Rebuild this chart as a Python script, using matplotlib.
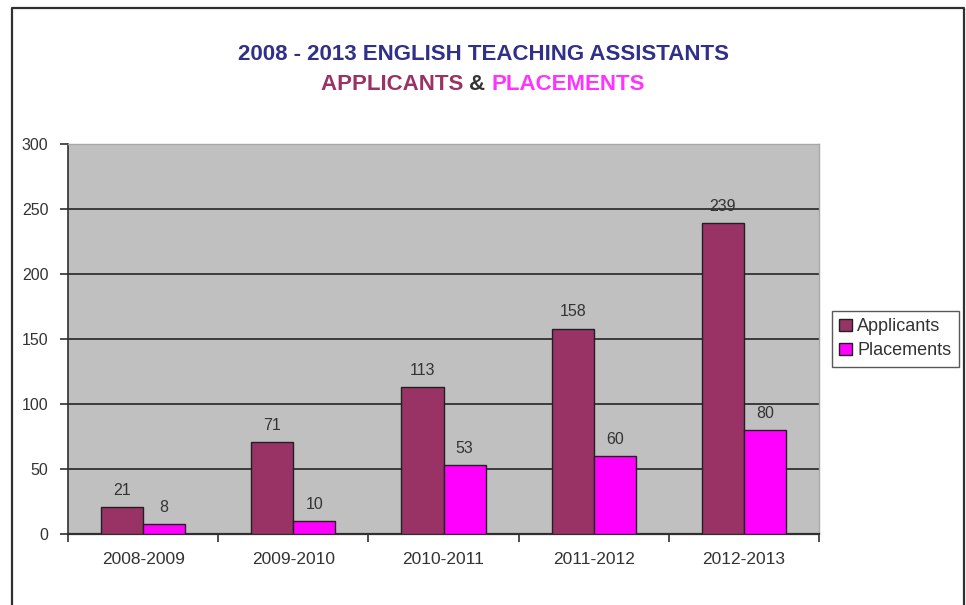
import numpy as np
import matplotlib.pyplot as plt

plt.rcParams['font.family'] = ['Liberation Sans', 'DejaVu Sans']

# chart data
seasons = ["2008-2009", "2009-2010", "2010-2011", "2011-2012", "2012-2013"]
applicants = [21, 71, 113, 158, 239]
placements = [8, 10, 53, 60, 80]
y_ticks = [0, 50, 100, 150, 200, 250, 300]

W, H = 966, 605
fig = plt.figure(figsize=(W / 100, H / 100), dpi=100)
fig.patch.set_facecolor("white")

# outer frame (open at the bottom)
fx0, fx1, fy1 = 12 / W, 964 / W, 1 - 8 / H
fig.add_artist(plt.Line2D([fx0, fx0, fx1, fx1], [0, fy1, fy1, 0],
                          transform=fig.transFigure, color="#303030", lw=1.6))

ax = fig.add_axes([68 / W, 1 - 534 / H, (819 - 68) / W, (534 - 144) / H])
ax.set_facecolor("#C0C0C0")

x = np.arange(len(seasons))
bw = 0.28
b1 = ax.bar(x - bw / 2, applicants, bw, color="#993366", edgecolor="#202020",
            lw=1.0, label="Applicants", zorder=3)
b2 = ax.bar(x + bw / 2, placements, bw, color="#FF00FF", edgecolor="#202020",
            lw=1.0, label="Placements", zorder=3)

for bars, vals in ((b1, applicants), (b2, placements)):
    for r, v in zip(bars, vals):
        ax.text(r.get_x() + r.get_width() / 2, v + 7, str(v), ha="center",
                va="bottom", fontsize=11.5, color="#333333")

ax.set_xlim(-0.5, len(seasons) - 0.5)
ax.set_ylim(0, 300)
ax.set_yticks(y_ticks)
ax.yaxis.grid(True, color="#303030", lw=1.3, zorder=1)
ax.set_axisbelow(True)

ax.set_xticks(x)
ax.set_xticklabels(seasons)
ax.tick_params(axis="x", length=0, pad=13, labelsize=12.5, labelcolor="#333333")
ax.set_xticks(np.arange(len(seasons) + 1) - 0.5, minor=True)
ax.tick_params(axis="x", which="minor", length=6, width=1.2, color="#303030")
ax.tick_params(axis="y", length=6, width=1.2, color="#303030", pad=8,
               labelsize=11.5, labelcolor="#333333")

for s in ("top", "right"):
    ax.spines[s].set_color("#A8A8A8")
    ax.spines[s].set_linewidth(1.0)
ax.spines["left"].set_color("#303030")
ax.spines["bottom"].set_color("#303030")
ax.spines["left"].set_linewidth(1.2)
ax.spines["bottom"].set_linewidth(1.6)

leg = fig.legend(handles=[b1, b2], loc="upper left",
                 bbox_to_anchor=(832 / W, 1 - 311 / H), fontsize=13,
                 frameon=True, fancybox=False, edgecolor="#303030",
                 handlelength=0.7, handleheight=0.7, handletextpad=0.3,
                 borderpad=0.4, labelspacing=0.4, borderaxespad=0)
for t in leg.get_texts():
    t.set_color("#333333")
leg.get_frame().set_linewidth(1.0)

# title
fs = 16
fig.text(0.5, 1 - 55 / H, "2008 - 2013 ENGLISH TEACHING ASSISTANTS", ha="center",
         va="center", fontsize=fs, fontweight="bold", color="#30308A")
parts = [("APPLICANTS ", "#993366"), ("& ", "#333333"), ("PLACEMENTS", "#FF33FF")]
r = fig.canvas.get_renderer()
pieces = []
total = 0
for txt, col in parts:
    tt = fig.text(0, 1 - 84 / H, txt, ha="left", va="center", fontsize=fs,
                  fontweight="bold", color=col)
    w = tt.get_window_extent(renderer=r).width
    pieces.append((tt, w))
    total += w
x0 = (W - total) / 2
for tt, w in pieces:
    tt.set_x(x0 / W)
    x0 += w

fig.savefig("out.png", dpi=100)
